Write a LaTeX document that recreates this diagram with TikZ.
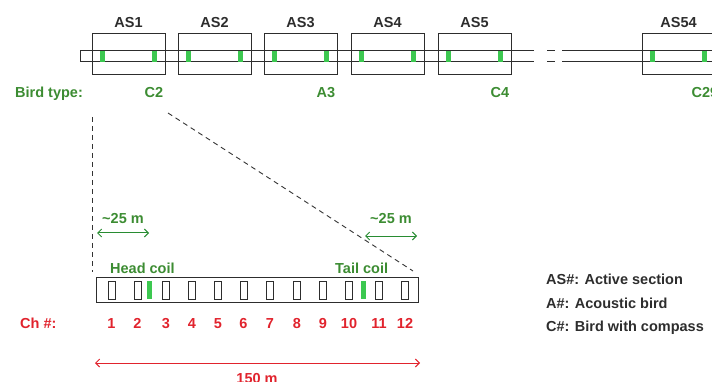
\documentclass[tikz,border=0pt]{standalone}
\usepackage{fontspec}
\setmainfont{Liberation Sans}
\usetikzlibrary{arrows.meta}
\definecolor{txtgrey}{RGB}{45,45,45}
\definecolor{birdgreen}{RGB}{60,140,50}
\definecolor{arrgreen}{RGB}{40,140,50}
\definecolor{bargreen}{RGB}{60,200,80}
\definecolor{chred}{RGB}{225,35,45}
\tikzset{
  lbl/.style={font=\bfseries\fontsize{14.5}{16}\selectfont, inner sep=0pt, anchor=base},
  gtxt/.style={lbl, text=birdgreen},
  rtxt/.style={lbl, text=chred},
  ktxt/.style={lbl, text=txtgrey},
  asbox/.style={draw=txtgrey, line width=1pt},
  gbar/.style={fill=bargreen, draw=none},
  chbox/.style={draw=txtgrey, line width=1pt},
  cable/.style={draw=txtgrey, line width=1pt},
  guide/.style={draw=black!80, line width=0.9pt, dash pattern=on 5pt off 4pt},
  garrow/.style={draw=arrgreen, line width=1pt, {Straight Barb[length=4pt,width=8pt]}-{Straight Barb[length=4pt,width=8pt]}},
  rarrow/.style={draw=chred, line width=1pt, {Straight Barb[length=4pt,width=8pt]}-{Straight Barb[length=4pt,width=8pt]}}
}
\begin{document}
\begin{tikzpicture}[x=1pt,y=-1pt]
\useasboundingbox (0,0) rectangle (712,382);
% cable
\coordinate (cL1) at (80,51); \coordinate (cL2) at (80,62);
\coordinate (cA1) at (534,51); \coordinate (cA2) at (534,62);
\coordinate (cD1) at (547,51); \coordinate (cD2) at (555,51);
\coordinate (cE1) at (547,62); \coordinate (cE2) at (555,62);
\coordinate (cB1) at (562,51); \coordinate (cB2) at (562,62);
\coordinate (cR1) at (720,51); \coordinate (cR2) at (720,62);
\draw[cable] (cA1) -- (cL1) -- (cL2) -- (cA2);
\draw[cable] (cD1) -- (cD2);
\draw[cable] (cE1) -- (cE2);
\draw[cable] (cB1) -- (cR1);
\draw[cable] (cB2) -- (cR2);
% active sections
\foreach \x/\t in {92/AS1,178/AS2,264/AS3,351/AS4,438/AS5,642/AS54}{
  \fill[gbar] (\x+8,51) rectangle (\x+13,62);
  \fill[gbar] (\x+60,51) rectangle (\x+65,62);
  \draw[asbox] (\x,34) rectangle (\x+73,75);
  \node[ktxt] (lab\t) at (\x+36.5,28) {\t};
}
% bird types
\node[gtxt, anchor=base west] (bt) at (15,98) {Bird type:};
\node[gtxt] (bC2) at (154,98) {C2};
\node[gtxt] (bA3) at (326,98) {A3};
\node[gtxt] (bC4) at (500,98) {C4};
\node[gtxt] (bC29) at (705,98) {C29};
% guides
\coordinate (gv1) at (92,117); \coordinate (gv2) at (92,272);
\coordinate (gd1) at (168,113); \coordinate (gd2) at (413,271);
\draw[guide] (gv1) -- (gv2);
\draw[guide] (gd1) -- (gd2);
% ~25 m
\coordinate (a1) at (97,233); \coordinate (a2) at (149,233);
\coordinate (a3) at (365,236); \coordinate (a4) at (417,236);
\draw[garrow] (a1) -- (a2);
\draw[garrow] (a3) -- (a4);
\node[gtxt] (d1) at (123,223) {\textasciitilde25 m};
\node[gtxt] (d2) at (391,224) {\textasciitilde25 m};
% streamer section
\draw[chbox] (96,277) rectangle (418,302);
\node[gtxt, anchor=base west] (hc) at (110,273) {Head coil};
\node[gtxt, anchor=base west] (tc) at (335,273) {Tail coil};
\fill[gbar] (147,281) rectangle (151.5,299);
\fill[gbar] (361,281) rectangle (365.5,299);
\foreach \c [count=\i] in {111.5,137.5,166,192,218,243.5,270,297,323,349,379,405}{
  \draw[chbox] (\c-3.5,281) rectangle (\c+3.5,299);
  \node[rtxt] (n\i) at (\c,328) {\i};
}
\node[rtxt, anchor=base west] (ch) at (20,328) {Ch \#:};
% 150 m
\coordinate (r1) at (95,363); \coordinate (r2) at (420,363);
\draw[rarrow] (r1) -- (r2);
\node[rtxt] (len) at (257,383) {150 m};
% legend
\node[ktxt, anchor=base west] (lg1) at (546,284) {AS\#: Active section};
\node[ktxt, anchor=base west] (lg2) at (546,308) {A\#: Acoustic bird};
\node[ktxt, anchor=base west] (lg3) at (546,331) {C\#: Bird with compass};
\end{tikzpicture}
\end{document}
